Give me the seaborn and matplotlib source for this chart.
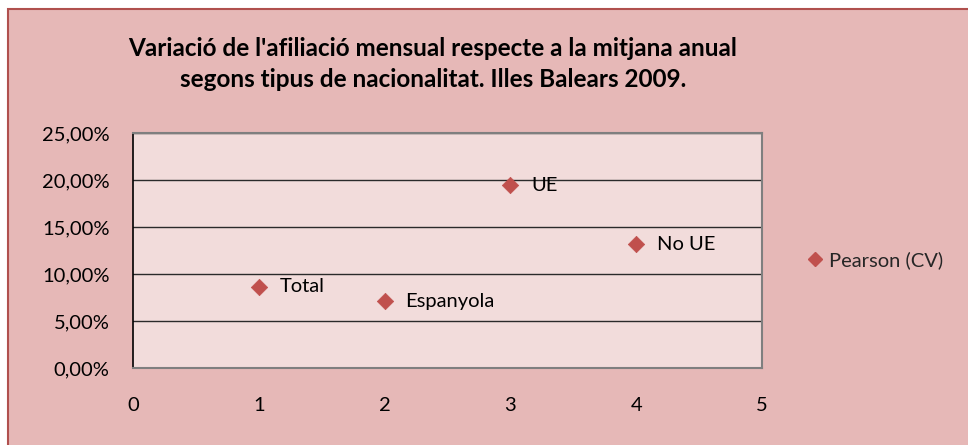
import numpy as np
import pandas as pd
import seaborn as sns
import matplotlib
matplotlib.use('Agg')
import matplotlib.pyplot as plt
from matplotlib.patches import Rectangle
from matplotlib.ticker import FuncFormatter
from matplotlib.lines import Line2D

# data
categories = ['Total', 'Espanyola', 'UE', 'No UE']
x_pos = [1, 2, 3, 4]
pearson_cv = [8.65, 7.1, 19.45, 13.15]
title = "Variació de l'afiliació mensual respecte a la mitjana anual\nsegons tipus de nacionalitat. Illes Balears 2009."
series_name = 'Pearson (CV)'

df = pd.DataFrame({'x': x_pos, 'cv': pearson_cv, 'label': categories})

sns.set_style('white')
plt.rcParams['font.family'] = ['Lato', 'DejaVu Sans']

bg = '#E6B8B7'
plot_bg = '#F2DCDB'
red = '#C0504D'

fig = plt.figure(figsize=(9.68, 4.45), dpi=100, facecolor='white')
# chart area with border (right/bottom edges run off the image)
W, H = 968, 445
fig.patches.append(Rectangle((8 / W, -0.1), 1.1, 1.1 - 9 / H, transform=fig.transFigure,
                             facecolor=bg, edgecolor='#B0504E', linewidth=1.5, zorder=-5))

ax = fig.add_axes([133 / W, 1 - 368 / H, (762 - 133) / W, (368 - 133) / H])
ax.set_zorder(2)
ax.set_facecolor(plot_bg)

sns.scatterplot(data=df, x='x', y='cv', marker='D', s=70, color=red,
                edgecolor=red, linewidth=0.5, ax=ax, legend=False, zorder=3)

for _, r in df.iterrows():
    ax.annotate(r['label'], (r['x'], r['cv']), xytext=(15, 0), textcoords='offset points',
                va='center', ha='left', fontsize=14.5, color='black')

ax.set_xlim(0, 5)
ax.set_ylim(0, 25)
ax.set_xticks(range(0, 6))
ax.set_yticks(range(0, 26, 5))
ax.yaxis.set_major_formatter(FuncFormatter(lambda v, p: f'{v:.2f}%'.replace('.', ',')))
ax.grid(axis='y', color='#2a2a2a', linewidth=1)
ax.set_axisbelow(True)
ax.set_xlabel('')
ax.set_ylabel('')

for side in ['top', 'right', 'bottom']:
    ax.spines[side].set_color('#7f7f7f')
    ax.spines[side].set_linewidth(1.5)
ax.spines['left'].set_color('black')
ax.spines['left'].set_linewidth(1.2)

ax.tick_params(axis='both', direction='out', width=1, color='#404040',
               labelsize=14.5, labelcolor='black')
ax.tick_params(axis='x', length=6, pad=15)
ax.tick_params(axis='y', length=5, pad=12)

fig.text(433 / W, 1 - 64 / H, title, ha='center', va='center', fontsize=17.5,
         fontweight='bold', linespacing=1.4, color='black')

handle = Line2D([], [], marker='D', linestyle='', color=red, markersize=7)
fig.legend([handle], [series_name], loc='center left', bbox_to_anchor=(785 / W, 1 - 260 / H),
           frameon=False, fontsize=14.5, handletextpad=0.1, handlelength=1.2)

fig.savefig('out.png', dpi=100, facecolor=fig.get_facecolor())
